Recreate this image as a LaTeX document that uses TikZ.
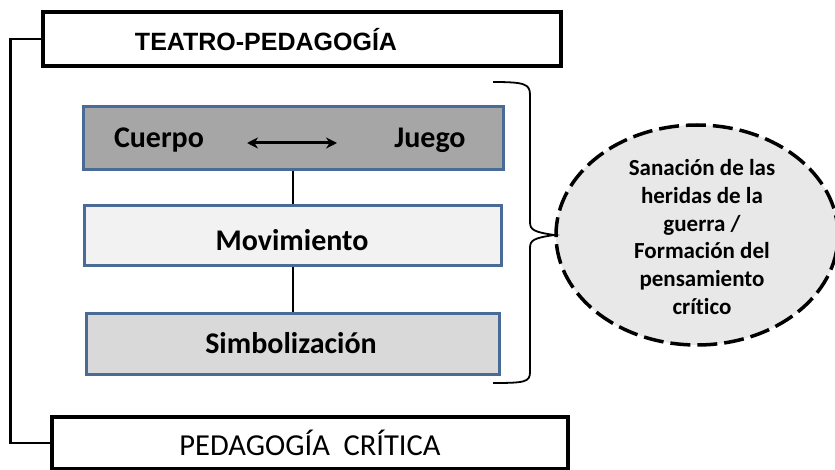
\documentclass[tikz,border=0pt]{standalone}
\usepackage{fontspec}
\setmainfont{Carlito}[Ligatures={NoCommon}]
\newfontfamily\arialfont{Liberation Sans}
\usetikzlibrary{arrows.meta,shapes.geometric}
\definecolor{boxblue}{HTML}{4A6B96}
\definecolor{darkfill}{HTML}{A6A6A6}
\definecolor{lightfill}{HTML}{F2F2F2}
\definecolor{midfill}{HTML}{D9D9D9}
\definecolor{ellfill}{HTML}{E8E8E8}
\tikzset{
  blackbox/.style={draw=black,line width=3.2pt,fill=white,inner sep=0pt},
  bluebox/.style={draw=boxblue,line width=3pt,inner sep=0pt},
  boxtext/.style={font=\bfseries\fontsize{30}{34}\selectfont,inner sep=0pt},
  link/.style={line width=2.2pt,draw=black},
}
\begin{document}
\begin{tikzpicture}[x=1pt,y=-1pt]
\useasboundingbox (0,0) rectangle (835,470);
% top and bottom frames
\node[blackbox,minimum width=518pt,minimum height=54pt] (tp) at (302,39) {};
\node[inner sep=0pt,font=\arialfont\bfseries\fontsize{25}{28}\selectfont] (tpt) at (266,40) {TEATRO-PEDAGOGÍA};
\node[blackbox,minimum width=516pt,minimum height=52pt] (pc) at (310,443)
  {\fontsize{30.5}{34}\selectfont PEDAGOGÍA\hspace{0.45em}CRÍTICA};
\draw[link] (tp.west) -- ++(-31,0) |- (pc.west);
% inner boxes
\node[bluebox,fill=darkfill,minimum width=420pt,minimum height=63pt] (cj) at (293,138.5) {};
\node[boxtext] (cu) at (159,140) {Cuerpo};
\node[boxtext] (ju) at (430,140) {Juego};
\coordinate (al) at (247,143);
\coordinate (ar) at (337,143);
\draw[line width=3pt,{Stealth[length=11pt,width=11pt]}-{Stealth[length=11pt,width=11pt]}] (al) -- (ar);
\node[bluebox,fill=lightfill,minimum width=417pt,minimum height=60pt] (mv) at (293,235.5) {};
\node[boxtext] (mvt) at (292,240) {Movimiento};
\node[bluebox,fill=midfill,minimum width=413pt,minimum height=61pt] (sb) at (293,343.5) {};
\node[boxtext] (sbt) at (291,343) {Simbolización};
\draw[link] (cj.south) -- (mv.north);
\draw[link] (mv.south) -- (sb.north);
% ellipse
\node[ellipse,draw=black,line width=3.5pt,dash pattern=on 20pt off 7pt,fill=ellfill,
      minimum width=282pt,minimum height=220pt,inner sep=0pt] (el) at (697,235) {};
\node[font=\bfseries\fontsize{23}{27.7}\selectfont,align=center,inner sep=0pt] (elt) at (702,237)
  {Sanación de las\\heridas de la\\guerra /\\Formación del\\pensamiento\\crítico};
% brace
\coordinate (bt) at (493,82);
\coordinate (bb) at (493,383);
\draw[line width=1.8pt] (bt) .. controls (525,82) and (530,84) .. (530,95)
  -- (530,222) .. controls (530,230) and (534,232) .. (el.west)
  .. controls (534,238) and (530,240) .. (530,248)
  -- (530,372) .. controls (530,382) and (525,383) .. (bb);
\end{tikzpicture}
\end{document}
